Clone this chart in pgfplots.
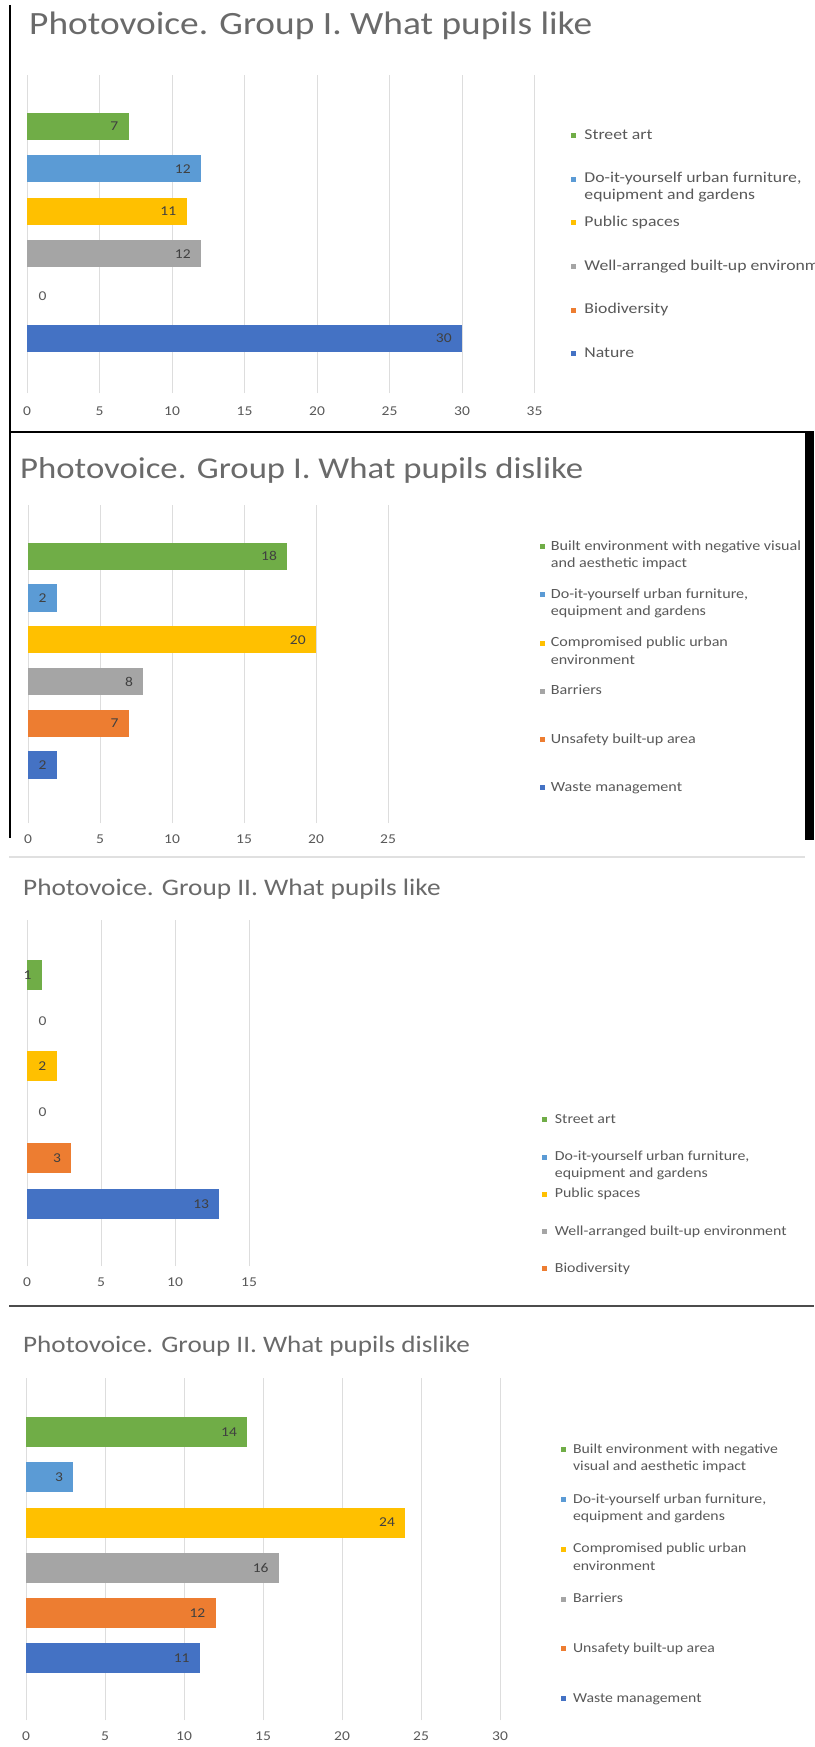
\documentclass[border=0pt]{standalone}
\usepackage{fontspec}
\setmainfont{Carlito}[FakeStretch=1.15]
\newfontfamily\legP{Carlito}[FakeStretch=1.18]
\usepackage{pgfplots}
\pgfplotsset{compat=1.18}

\definecolor{cNat}{HTML}{4472C4}
\definecolor{cBio}{HTML}{ED7D31}
\definecolor{cWell}{HTML}{A5A5A5}
\definecolor{cPub}{HTML}{FFC000}
\definecolor{cDiy}{HTML}{5B9BD5}
\definecolor{cStr}{HTML}{70AD47}
\definecolor{txt}{HTML}{595959}
\definecolor{ttl}{HTML}{6A6A6A}
\definecolor{lbl}{HTML}{404040}
\definecolor{grd}{HTML}{DDDDDD}

\newcommand{\legtxt}[1]{\raisebox{0pt}[10pt][0pt]{\begin{tabular}[t]{@{}l@{}}#1\end{tabular}}}

\pgfplotsset{
  photo/.style={
    scale only axis,
    anchor=south west,
    xmin=0,
    ytick=\empty,
    xmajorgrids,
    grid style={grd, line width=0.9pt},
    axis line style={draw=none},
    major tick length=0pt,
    tick style={draw=none},
    xticklabel style={font=\fontsize{13.5}{15}\selectfont, text=txt, yshift=-8pt},
    /pgf/number format/assume math mode=true,
    clip=false,
    legend style={draw=none, fill=none, inner sep=0pt, outer sep=0pt,
      text=txt, anchor=north west, column sep=8pt,
      nodes={inner sep=0pt}, cells={anchor=base west}},
    reverse legend,
  },
  bars/.style={xbar, bar shift=0pt, draw=none, fill=#1, point meta=x,
    nodes near coords={\makebox[0pt][r]{\pgfmathprintnumber{\pgfplotspointmeta}}},
    nodes near coords align=horizontal,
    every node near coord/.append style={anchor=west, inner sep=0pt, xshift=-11pt,
      font=\fontsize{13.5}{15}\selectfont, text=lbl},
    legend image code/.code={\fill[fill=#1, draw=none] (0pt,1pt) rectangle (5pt,6pt);}},
  zbars/.style={xbar, bar shift=0pt, draw=none, fill=none, point meta=x,
    nodes near coords={\makebox[0pt][l]{0}},
    nodes near coords align=horizontal,
    every node near coord/.append style={anchor=west, inner sep=0pt, xshift=11pt,
      font=\fontsize{13.5}{15}\selectfont, text=txt},
    legend image code/.code={\fill[fill=#1, draw=none] (0pt,1pt) rectangle (5pt,6pt);}},
}

\begin{document}
\begin{tikzpicture}
\useasboundingbox (0pt,0pt) rectangle (814pt,-1747pt);
\fill[white] (0pt,0pt) rectangle (814pt,-1747pt);

% frames
\draw[black, line width=2pt] (10pt,-5pt) -- (10pt,-432pt);
\draw[black, line width=2pt] (9pt,-432pt) -- (814pt,-432pt);
\draw[black, line width=2pt] (10pt,-432pt) -- (10pt,-838pt);
\fill[black] (805pt,-432pt) rectangle (814pt,-840pt);
\draw[black!12, line width=1.5pt] (9pt,-857pt) -- (805pt,-857pt);
\draw[black!70, line width=2pt] (9pt,-1306pt) -- (814pt,-1306pt);

% titles
\node[anchor=base west, inner sep=0pt, text=ttl, font=\fontsize{32.5}{36}\selectfont] at (29pt,-35pt) {Photovoice. Group I. What pupils like};
\node[anchor=base west, inner sep=0pt, text=ttl, font=\fontsize{30.2}{34}\selectfont] at (20pt,-478pt) {Photovoice. Group I. What pupils dislike};
\node[anchor=base west, inner sep=0pt, text=ttl, font=\fontsize{23.7}{28}\selectfont] at (23pt,-895pt) {Photovoice. Group II. What pupils like};
\node[anchor=base west, inner sep=0pt, text=ttl, font=\fontsize{23.6}{28}\selectfont] at (23pt,-1352pt) {Photovoice. Group II. What pupils dislike};

% Panel 1
\begin{axis}[photo, at={(27pt,-393pt)}, width=507.5pt, height=318pt,
  xmax=35, xtick={0,5,...,35}, ymin=-1.285, ymax=6.215,
  xticklabel style={yshift=-2pt},
  every axis plot/.append style={bar width=27pt},
  legend style={at={(1.0719,0.8295)}, row sep=32.1pt, column sep=8.5pt, font=\legP\fontsize{15}{17}\selectfont}]
\addplot[bars=cNat] coordinates {(30,0)}; \addlegendentry{\legtxt{Nature}}
\addplot[zbars=cBio] coordinates {(0,1)}; \addlegendentry{\legtxt{Biodiversity}}
\addplot[bars=cWell] coordinates {(12,2)}; \addlegendentry{\legtxt{Well-arranged built-up environment}}
\addplot[bars=cPub] coordinates {(11,3)}; \addlegendentry{\legtxt{Public spaces}}
\addplot[bars=cDiy] coordinates {(12,4)}; \addlegendentry{\legtxt{Do-it-yourself urban furniture,\\equipment and gardens}}
\addplot[bars=cStr] coordinates {(7,5)}; \addlegendentry{\legtxt{Street art}}
\end{axis}

% Panel 2
\begin{axis}[photo, at={(28pt,-823pt)}, width=360pt, height=318pt,
  xmax=25, xtick={0,5,...,25}, ymin=-1.39, ymax=6.23,
  every axis plot/.append style={bar width=27.3pt},
  legend style={at={(1.4219,0.8893)}, row sep=36.7pt, column sep=6pt, font=\fontsize{14}{17.5}\selectfont}]
\addplot[bars=cNat] coordinates {(2,0)}; \addlegendentry{\legtxt{Waste management}}
\addplot[bars=cBio] coordinates {(7,1)}; \addlegendentry{\legtxt{Unsafety built-up area}}
\addplot[bars=cWell] coordinates {(8,2)}; \addlegendentry{\legtxt{Barriers}}
\addplot[bars=cPub] coordinates {(20,3)}; \addlegendentry{\legtxt{Compromised public urban\\environment}}
\addplot[bars=cDiy] coordinates {(2,4)}; \addlegendentry{\legtxt{Do-it-yourself urban furniture,\\equipment and gardens}}
\addplot[bars=cStr] coordinates {(18,5)}; \addlegendentry{\legtxt{Built environment with negative visual\\and aesthetic impact}}
\end{axis}

% Panel 3
\begin{axis}[photo, at={(27pt,-1266pt)}, width=222pt, height=346pt,
  xmax=15, xtick={0,5,...,15}, ymin=-1.36, ymax=6.2,
  every axis plot/.append style={bar width=30pt},
  legend style={at={(2.3216,0.4416)}, row sep=25.8pt, column sep=7.5pt, font=\fontsize{13.8}{17}\selectfont}]
\addplot[bars=cNat, forget plot] coordinates {(13,0)};
\addplot[bars=cBio] coordinates {(3,1)}; \addlegendentry{\legtxt{Biodiversity}}
\addplot[zbars=cWell] coordinates {(0,2)}; \addlegendentry{\legtxt{Well-arranged built-up environment}}
\addplot[bars=cPub] coordinates {(2,3)}; \addlegendentry{\legtxt{Public spaces}}
\addplot[zbars=cDiy] coordinates {(0,4)}; \addlegendentry{\legtxt{Do-it-yourself urban furniture,\\equipment and gardens}}
\addplot[bars=cStr] coordinates {(1,5)}; \addlegendentry{\legtxt{Street art}}
\end{axis}

% Panel 4
\begin{axis}[photo, at={(26pt,-1720pt)}, width=474pt, height=342pt,
  xmax=30, xtick={0,5,...,30}, ymin=-1.36, ymax=6.19,
  every axis plot/.append style={bar width=30pt},
  legend style={at={(1.1278,0.8094)}, row sep=38.3pt, column sep=7.5pt, font=\fontsize{13.7}{17.5}\selectfont}]
\addplot[bars=cNat] coordinates {(11,0)}; \addlegendentry{\legtxt{Waste management}}
\addplot[bars=cBio] coordinates {(12,1)}; \addlegendentry{\legtxt{Unsafety built-up area}}
\addplot[bars=cWell] coordinates {(16,2)}; \addlegendentry{\legtxt{Barriers}}
\addplot[bars=cPub] coordinates {(24,3)}; \addlegendentry{\legtxt{Compromised public urban\\environment}}
\addplot[bars=cDiy] coordinates {(3,4)}; \addlegendentry{\legtxt{Do-it-yourself urban furniture,\\equipment and gardens}}
\addplot[bars=cStr] coordinates {(14,5)}; \addlegendentry{\legtxt{Built environment with negative\\visual and aesthetic impact}}
\end{axis}
\end{tikzpicture}
\end{document}
